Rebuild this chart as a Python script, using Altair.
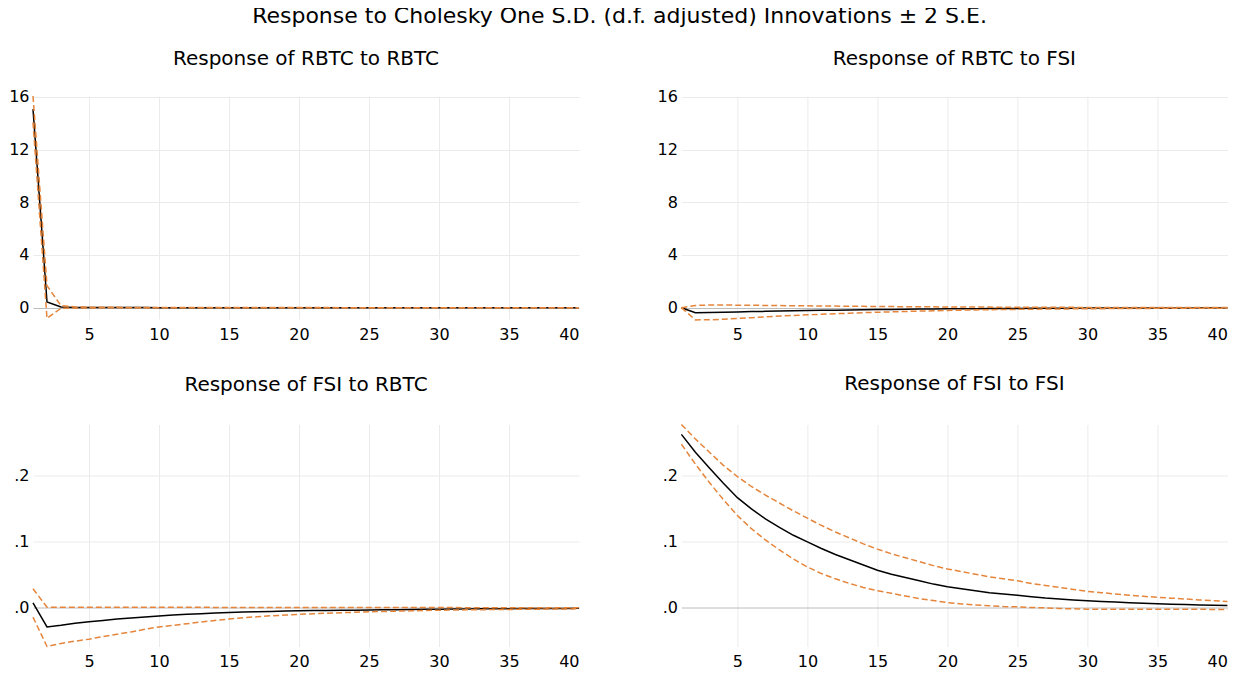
import altair as alt
import pandas as pd

periods = list(range(1, 41))

# Response of RBTC to RBTC
rr_resp = [15.07, 0.43, 0.05, 0.02, 0.01, 0.008, 0.006, 0.005, 0.004, 0.003,
           0.003, 0.002, 0.002, 0.002, 0.001, 0.001, 0.001, 0.001, 0.001, 0.001,
           0.0, 0.0, 0.0, 0.0, 0.0, 0.0, 0.0, 0.0, 0.0, 0.0,
           0.0, 0.0, 0.0, 0.0, 0.0, 0.0, 0.0, 0.0, 0.0, 0.0]
rr_upper = [16.07, 1.67, 0.15, 0.06, 0.04, 0.03, 0.025, 0.02, 0.018, 0.016,
            0.014, 0.012, 0.011, 0.01, 0.009, 0.008, 0.007, 0.006, 0.005, 0.005,
            0.004, 0.004, 0.003, 0.003, 0.003, 0.002, 0.002, 0.002, 0.002, 0.002,
            0.001, 0.001, 0.001, 0.001, 0.001, 0.001, 0.001, 0.001, 0.001, 0.001]
rr_lower = [14.07, -0.81, -0.05, -0.02, -0.02, -0.015, -0.013, -0.011, -0.01, -0.009,
            -0.008, -0.007, -0.006, -0.006, -0.005, -0.005, -0.004, -0.004, -0.003, -0.003,
            -0.003, -0.002, -0.002, -0.002, -0.002, -0.002, -0.001, -0.001, -0.001, -0.001,
            -0.001, -0.001, -0.001, -0.001, -0.001, -0.001, -0.001, -0.001, -0.001, -0.001]

# Response of RBTC to FSI
rf_resp = [0.0, -0.38, -0.36, -0.34, -0.32, -0.30, -0.28, -0.26, -0.24, -0.22,
           -0.205, -0.19, -0.175, -0.16, -0.145, -0.133, -0.122, -0.11, -0.10, -0.09,
           -0.082, -0.075, -0.068, -0.062, -0.056, -0.051, -0.046, -0.042, -0.038, -0.034,
           -0.031, -0.028, -0.025, -0.023, -0.021, -0.019, -0.017, -0.015, -0.014, -0.013]
rf_upper = [0.0, 0.17, 0.2, 0.2, 0.19, 0.18, 0.17, 0.16, 0.15, 0.14,
            0.13, 0.12, 0.11, 0.10, 0.09, 0.082, 0.075, 0.068, 0.062, 0.056,
            0.051, 0.046, 0.042, 0.038, 0.034, 0.031, 0.028, 0.025, 0.023, 0.021,
            0.019, 0.017, 0.015, 0.014, 0.013, 0.012, 0.011, 0.010, 0.009, 0.008]
rf_lower = [0.0, -0.93, -0.92, -0.88, -0.82, -0.76, -0.70, -0.64, -0.59, -0.54,
            -0.50, -0.46, -0.42, -0.38, -0.35, -0.32, -0.29, -0.26, -0.235, -0.21,
            -0.19, -0.172, -0.156, -0.142, -0.13, -0.118, -0.108, -0.099, -0.09, -0.082,
            -0.075, -0.068, -0.062, -0.057, -0.052, -0.048, -0.044, -0.04, -0.037, -0.034]

# Response of FSI to RBTC
fr_resp = [0.0075, -0.029, -0.0265, -0.0235, -0.021, -0.019, -0.017, -0.0155, -0.0138, -0.0122,
           -0.011, -0.0098, -0.0088, -0.0079, -0.0071, -0.0064, -0.0059, -0.0054, -0.0049, -0.0045,
           -0.0042, -0.0039, -0.0037, -0.0035, -0.0033, -0.003, -0.0027, -0.0025, -0.0022, -0.002,
           -0.0018, -0.0016, -0.0015, -0.0013, -0.0012, -0.0011, -0.001, -0.0009, -0.0008, -0.0007]
fr_upper = [0.029, 0.001, 0.0008, 0.0008, 0.0008, 0.0008, 0.0008, 0.0008, 0.0008, 0.0008,
            0.0008, 0.0008, 0.0008, 0.0007, 0.0007, 0.0007, 0.0007, 0.0006, 0.0006, 0.0006,
            0.0006, 0.0005, 0.0005, 0.0005, 0.0005, 0.0005, 0.0004, 0.0004, 0.0004, 0.0004,
            0.0004, 0.0003, 0.0003, 0.0003, 0.0003, 0.0003, 0.0002, 0.0002, 0.0002, 0.0002]
fr_lower = [-0.014, -0.0586, -0.054, -0.0505, -0.0475, -0.0435, -0.040, -0.0365, -0.0325, -0.029,
            -0.0265, -0.024, -0.0215, -0.019, -0.017, -0.015, -0.0135, -0.012, -0.011, -0.0098,
            -0.009, -0.0082, -0.0074, -0.0067, -0.006, -0.0055, -0.005, -0.0045, -0.004, -0.0036,
            -0.0033, -0.003, -0.0028, -0.0026, -0.0024, -0.0022, -0.002, -0.0018, -0.0016, -0.0015]

# Response of FSI to FSI
ff_resp = [0.263, 0.236, 0.212, 0.189, 0.167, 0.150, 0.135, 0.122, 0.110, 0.100,
           0.090, 0.081, 0.073, 0.065, 0.057, 0.051, 0.046, 0.041, 0.036, 0.032,
           0.029, 0.026, 0.023, 0.021, 0.019, 0.017, 0.015, 0.0135, 0.012, 0.0107,
           0.0097, 0.0087, 0.0078, 0.007, 0.0063, 0.0056, 0.005, 0.0045, 0.004, 0.0034]
ff_upper = [0.278, 0.256, 0.236, 0.216, 0.199, 0.184, 0.171, 0.159, 0.147, 0.136,
            0.125, 0.115, 0.106, 0.097, 0.089, 0.082, 0.076, 0.070, 0.064, 0.059,
            0.055, 0.051, 0.047, 0.044, 0.041, 0.037, 0.034, 0.031, 0.028, 0.025,
            0.023, 0.021, 0.019, 0.0175, 0.016, 0.0147, 0.0134, 0.012, 0.0108, 0.0096]
ff_lower = [0.248, 0.218, 0.190, 0.164, 0.140, 0.120, 0.103, 0.088, 0.074, 0.062,
            0.052, 0.044, 0.037, 0.031, 0.026, 0.022, 0.018, 0.014, 0.011, 0.008,
            0.006, 0.0045, 0.003, 0.002, 0.0015, 0.0005, 0.0, -0.001, -0.0015, -0.002,
            -0.002, -0.002, -0.002, -0.002, -0.002, -0.002, -0.0022, -0.0022, -0.0024, -0.0025]

x_ticks = [5, 10, 15, 20, 25, 30, 35, 40]
top_ticks = [0, 4, 8, 12, 16]
bottom_ticks = [0.0, 0.1, 0.2]

FONT = "DejaVu Sans"
ORANGE = "#e5853b"
GRID = "#ebebeb"
ZERO = "#bcbcbc"


def panel(resp, upper, lower, title, ydomain, yticks, label_expr, height, title_offset):
    df = pd.DataFrame({"period": periods, "resp": resp, "upper": upper, "lower": lower})
    x = alt.X("period:Q",
              scale=alt.Scale(domain=[1, 40], nice=False, zero=False),
              axis=alt.Axis(values=x_ticks, title=None, labelPadding=7,
                            gridColor={"condition": {"test": "datum.value === 40", "value": "transparent"},
                                       "value": GRID}))
    yaxis = alt.Axis(values=yticks, title=None, labelPadding=4, labelExpr=label_expr,
                     gridColor={"condition": {"test": "datum.value === 0", "value": ZERO},
                                "value": GRID})
    base = alt.Chart(df).encode(x=x)
    black = base.mark_line(color="black", strokeWidth=1.5).encode(
        y=alt.Y("resp:Q", scale=alt.Scale(domain=ydomain, nice=False, zero=False), axis=yaxis))
    up = base.mark_line(color=ORANGE, strokeWidth=1.5, strokeDash=[6, 3]).encode(y="upper:Q")
    lo = base.mark_line(color=ORANGE, strokeWidth=1.5, strokeDash=[6, 3]).encode(y="lower:Q")
    return alt.layer(black, up, lo).properties(
        width=546, height=height,
        title=alt.TitleParams(title, font=FONT, fontSize=20, fontWeight="normal",
                              anchor="middle", frame="group", baseline="bottom",
                              offset=title_offset, color="black"))


top_dom = [-0.86, 16.07]
bot_dom = [-0.0586, 0.278]
top_expr = "format(datum.value, 'd')"
bot_expr = "replace(format(datum.value, '.1f'), '0.', '.')"

tl = panel(rr_resp, rr_upper, rr_lower, "Response of RBTC to RBTC", top_dom, top_ticks, top_expr, 223, 0)
tr = panel(rf_resp, rf_upper, rf_lower, "Response of RBTC to FSI", top_dom, top_ticks, top_expr, 223, 0)
bl = panel(fr_resp, fr_upper, fr_lower, "Response of FSI to RBTC", bot_dom, bottom_ticks, bot_expr, 222, 10)
br = panel(ff_resp, ff_upper, ff_lower, "Response of FSI to FSI", bot_dom, bottom_ticks, bot_expr, 222, 8)

chart = alt.concat(tl, tr, bl, br, columns=2).properties(
    spacing={"row": 105.5, "column": 102.4},
    bounds="flush",
    padding={"top": -4, "left": 0, "right": 0, "bottom": 0},
    title=alt.TitleParams("Response to Cholesky One S.D. (d.f. adjusted) Innovations \u00b1 2 S.E.",
                          font=FONT, fontSize=22, fontWeight="normal", anchor="middle",
                          offset=21, color="black"),
).configure_view(stroke=None).configure_axis(
    domain=False, ticks=False, labelFont=FONT, labelFontSize=16, labelColor="black",
    gridWidth=1,
)

chart.save("out.html", embed_options={"renderer": "svg", "actions": False})
